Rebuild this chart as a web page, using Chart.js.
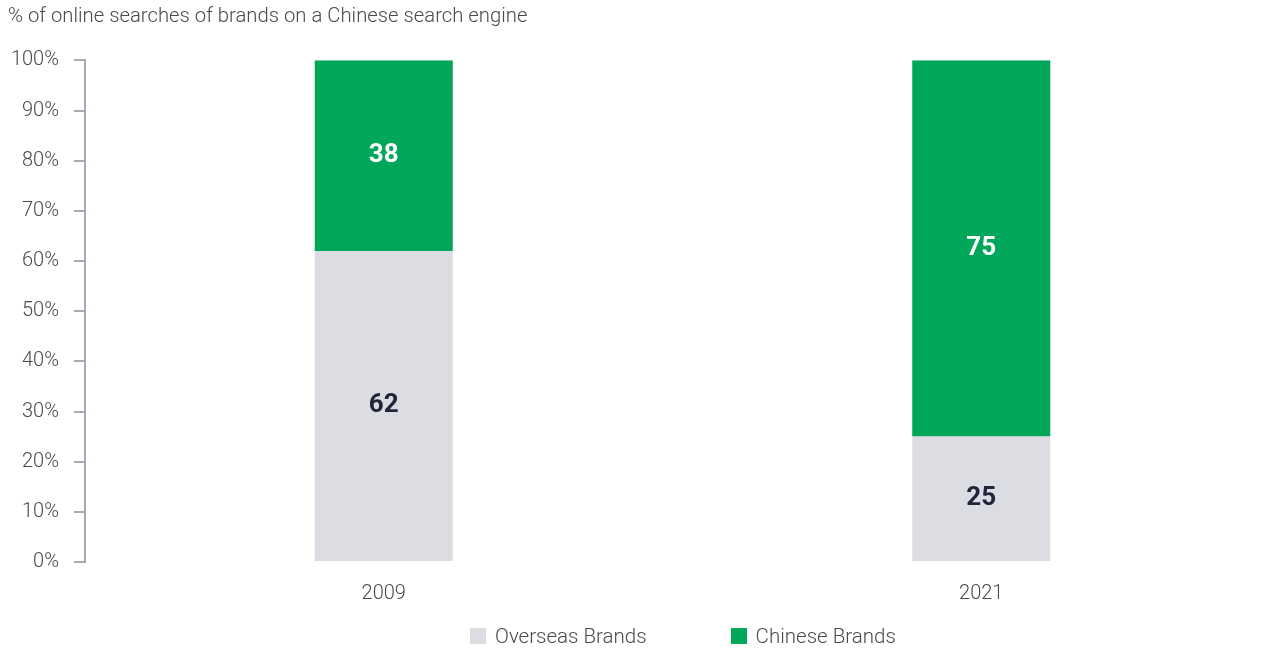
<!DOCTYPE html>
<html>
<head>
<meta charset="utf-8">
<script src="https://cdn.jsdelivr.net/npm/chart.js@4.4.0/dist/chart.umd.min.js"></script>
<style>
  html, body { margin: 0; padding: 0; background: #fff; }
  #wrap { position: relative; width: 1280px; height: 656px; }
  #legend { position: absolute; top: 624px; left: 470px; display: flex; font-family: Roboto, sans-serif; font-weight: 300; font-size: 20.5px; color: #4a4a4a; }
  .item { display: flex; align-items: center; height: 24px; }
  .item + .item { margin-left: 84px; }
  .box { width: 16px; height: 16px; margin-right: 9px; }
</style>
</head>
<body>
<div id="wrap">
  <canvas id="chart" width="1280" height="656"></canvas>
  <div id="legend"></div>
</div>
<script>
const years = ["2009", "2021"];
const seriesNames = ["Overseas Brands", "Chinese Brands"];
const overseas = [62, 25];
const chinese = [38, 75];
const yTicks = [0, 10, 20, 30, 40, 50, 60, 70, 80, 90, 100];
const colors = ["#dcdde2", "#00a65a"];

const axisGrey = "#a9a9b6";
const textGrey = "#4a4a4a";

// labels inside the bars
const barLabels = {
    id: "barLabels",
    afterDatasetsDraw(chart) {
        const ctx = chart.ctx;
        ctx.save();
        ctx.font = "bold 26px Roboto";
        ctx.textAlign = "center";
        ctx.textBaseline = "middle";
        chart.data.datasets.forEach((ds, i) => {
            chart.getDatasetMeta(i).data.forEach((bar, j) => {
                const mid = (bar.y + bar.base) / 2;
                ctx.fillStyle = i === 0 ? "#22243a" : "#ffffff";
                ctx.fillText(ds.data[j], bar.x, mid);
            });
        });
        ctx.restore();
    }
};

const chart = new Chart(document.getElementById("chart"), {
    type: "bar",
    data: {
        labels: years,
        datasets: [
            { label: seriesNames[0], data: overseas, backgroundColor: colors[0] },
            { label: seriesNames[1], data: chinese, backgroundColor: colors[1] }
        ]
    },
    options: {
        responsive: false,
        animation: false,
        barPercentage: 1,
        categoryPercentage: 0.231,
        layout: { padding: { left: 8, right: 0, top: 0, bottom: 30 } },
        plugins: {
            tooltip: { enabled: false },
            legend: { display: false },
            title: {
                display: true,
                text: "% of online searches of brands on a Chinese search engine",
                align: "start",
                color: textGrey,
                font: { family: "Roboto", size: 20.3, weight: "300" },
                padding: { top: 5, bottom: 31 }
            }
        },
        scales: {
            x: {
                stacked: true,
                grid: { display: false, drawTicks: false },
                border: { display: false },
                ticks: {
                    color: textGrey,
                    font: { family: "Roboto", size: 20, weight: "300" },
                    padding: 20
                }
            },
            y: {
                stacked: true,
                min: 0,
                max: 100,
                afterBuildTicks(axis) {
                    axis.ticks = yTicks.map(v => ({ value: v }));
                },
                afterFit(axis) {
                    axis.width = 77;
                },
                grid: { drawOnChartArea: false, tickLength: 11, color: axisGrey, lineWidth: 2 },
                border: { color: axisGrey, width: 2 },
                ticks: {
                    color: textGrey,
                    font: { family: "Roboto", size: 20, weight: "300" },
                    padding: 15,
                    callback: v => v + "%"
                }
            }
        }
    },
    plugins: [barLabels]
});

const legend = document.getElementById("legend");
chart.data.datasets.forEach(ds => {
    const item = document.createElement("div");
    item.className = "item";
    item.innerHTML = '<span class="box" style="background:' + ds.backgroundColor + '"></span>' + ds.label;
    legend.appendChild(item);
});
</script>
</body>
</html>
